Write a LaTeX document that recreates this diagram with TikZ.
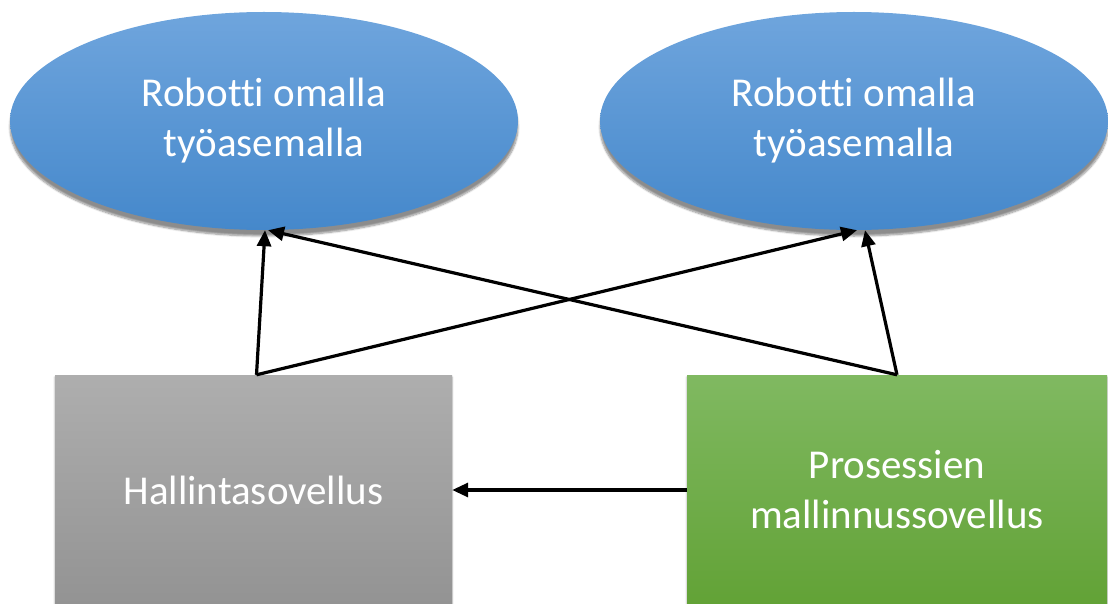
\documentclass[tikz,border=0pt]{standalone}
\usepackage{fontspec}
\setmainfont{Carlito}[Ligatures={NoCommon}]
\usetikzlibrary{arrows.meta,positioning,shapes.geometric,shadows.blur}
\definecolor{skytop}  {HTML}{6FA5DD}
\definecolor{skybot}  {HTML}{4588CB}
\definecolor{greytop} {HTML}{AEAEAE}
\definecolor{greybot} {HTML}{939393}
\definecolor{leaftop} {HTML}{80B961}
\definecolor{leafbot} {HTML}{62A236}

\tikzset{
  robot/.style={ellipse, inner sep=0pt, minimum width=508pt, minimum height=218pt,
    top color=skytop, bottom color=skybot, draw=none, text=white, align=center,
    font=\fontsize{41}{50}\selectfont,
    blur shadow={shadow xshift=0pt, shadow yshift=-6pt, shadow blur steps=8, shadow opacity=45}},
  appbox/.style={rectangle, inner sep=0pt, minimum height=230pt, draw=none,
    text=white, align=center, font=\fontsize{41}{50}\selectfont,
    blur shadow={shadow xshift=0pt, shadow yshift=-2pt, shadow blur steps=4, shadow opacity=35}},
  link/.style={-{Triangle[length=16pt,width=14pt]}, line width=3.2pt, black}
}

\begin{document}
\begin{tikzpicture}[x=1pt,y=-1pt]
  \useasboundingbox (0,0) rectangle (1108,604);
  \clip (0,0) rectangle (1108,604);

  % workstations on top
  \node[robot] (robotA) at (264,121) {Robotti omalla\\työasemalla};
  \node[robot] (robotB) at (854,121) {Robotti omalla\\työasemalla};

  % applications below
  \node[appbox, minimum width=397pt, top color=greytop, bottom color=greybot]
    (hallinta) at (253.5,490) {Hallintasovellus};
  \node[appbox, minimum width=420pt, top color=leaftop, bottom color=leafbot]
    (mallinnus) at (897,490) {Prosessien\\mallinnussovellus};

  % connections
  \draw[link] ([xshift=3pt]hallinta.north) -- ([xshift=1pt]robotA.south);
  \draw[link] ([xshift=3pt]hallinta.north) -- ([xshift=3pt]robotB.south);
  \draw[link] (mallinnus.north) -- ([xshift=4pt]robotA.south);
  \draw[link] (mallinnus.north) -- ([xshift=11pt]robotB.south);
  \draw[link] (mallinnus.west) -- (hallinta.east);
\end{tikzpicture}
\end{document}
